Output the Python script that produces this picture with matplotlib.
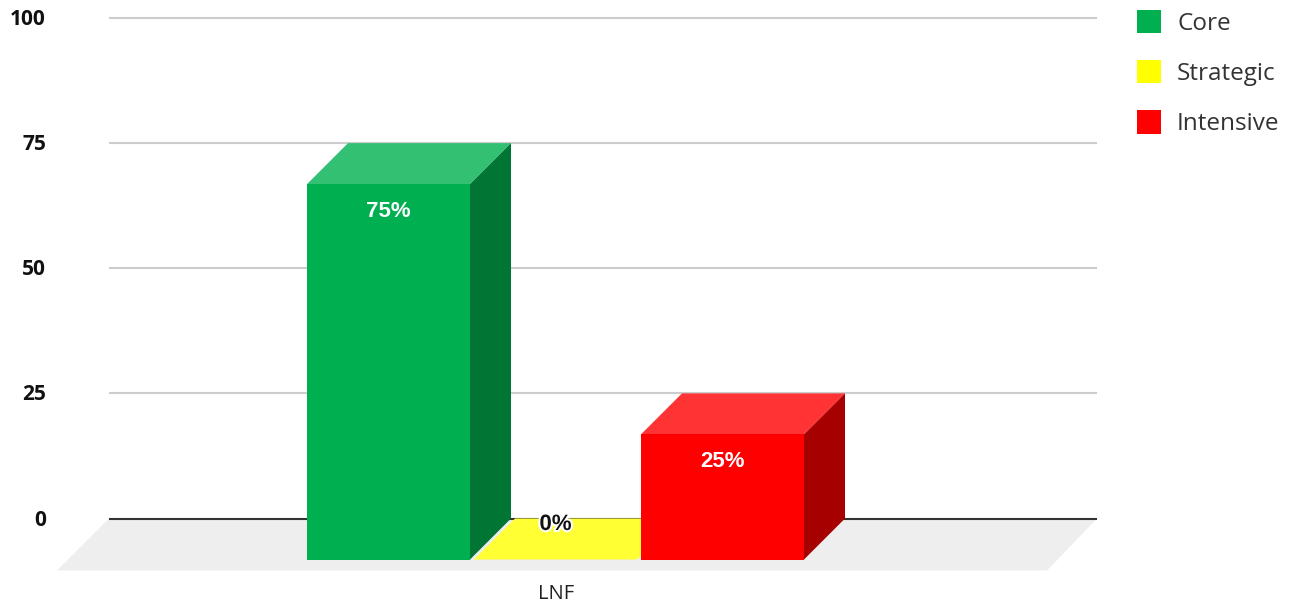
import matplotlib.pyplot as plt
from matplotlib.patches import Patch, Polygon
import matplotlib.patheffects as pe

# data
category = 'LNF'
series_names = ['Core', 'Strategic', 'Intensive']
series_values = [75, 0, 25]
series_colors = ['#00b050', '#ffff00', '#ff0000']
top_colors = ['#33c073', '#ffff33', '#ff3333']
side_colors = ['#007534', '#a6a600', '#a60000']
y_ticks = [0, 25, 50, 75, 100]

# the x axis runs in pixels, the y axis in chart values
px_per_unit = 5.005
zero_px = 518.5
fig = plt.figure(figsize=(12.92, 6.06), dpi=100)
ax = fig.add_axes([0, 0, 1, 1])
ax.set_xlim(0, 1292)
ax.set_ylim((zero_px - 606) / px_per_unit, zero_px / px_per_unit)
ax.axis('off')

wall_left, wall_right = 109, 1097
depth_x = 41
depth_y = 41 / px_per_unit
floor_y = 52 / px_per_unit

# floor
ax.add_patch(Polygon([(wall_left, 0), (wall_right, 0), (wall_right - 50, -floor_y), (wall_left - 52, -floor_y)],
                     closed=True, facecolor='#eeeeee', edgecolor='none', zorder=1))

# grid lines and y tick labels
for t in y_ticks:
    if t == 0:
        ax.plot([wall_left, wall_right], [t, t], color='#333333', lw=1.5, zorder=2, solid_capstyle='butt')
    else:
        ax.plot([wall_left, wall_right], [t, t], color='#cccccc', lw=1.5, zorder=2, solid_capstyle='butt')
    ax.text(46, t - 0.3, str(t), ha='right', va='center', fontsize=15, fontweight='bold',
            family='Open Sans', color='#111111')

# the bars, smallest first so the taller ones cover it
bar_width = 163
bar_step = 167
first_left = 307
order = sorted(range(len(series_values)), key=lambda k: series_values[k])
for z, i in enumerate(order):
    v = series_values[i]
    x0 = first_left + i * bar_step
    x1 = x0 + bar_width
    bottom = -depth_y
    top = v - depth_y
    zo = 3 + z
    # top face
    ax.add_patch(Polygon([(x0, top), (x1, top), (x1 + depth_x, v), (x0 + depth_x, v)],
                         closed=True, facecolor=top_colors[i], edgecolor='none', zorder=zo))
    if v > 0:
        # side and front faces
        ax.add_patch(Polygon([(x1, bottom), (x1 + depth_x, 0), (x1 + depth_x, v), (x1, top)],
                             closed=True, facecolor=side_colors[i], edgecolor='none', zorder=zo))
        ax.add_patch(Polygon([(x0, bottom), (x1, bottom), (x1, top), (x0, top)],
                             closed=True, facecolor=series_colors[i], edgecolor='none', zorder=zo))
        ax.text((x0 + x1) / 2, top - 5.5, f'{v}%', ha='center', va='center', fontsize=16, fontweight='bold',
                family='Liberation Sans', color='white', zorder=10)
    else:
        ax.text((x0 + x1) / 2, -1.2, f'{v}%', ha='center', va='center', fontsize=16, fontweight='bold',
                family='Liberation Sans', color='#111111', zorder=10,
                path_effects=[pe.withStroke(linewidth=3, foreground='white')])

# category label
ax.text(556, (zero_px - 594) / px_per_unit, category, ha='center', va='center', fontsize=14.5,
        family='Open Sans', color='#222222')

# legend
handles = [Patch(facecolor=c, edgecolor='none', label=n) for c, n in zip(series_colors, series_names)]
ax.legend(handles=handles, loc='upper left', bbox_to_anchor=(1137 / 1292, 1 - 10 / 606), frameon=False,
          prop={'family': 'Open Sans', 'size': 17.5}, labelcolor='#333333', borderpad=0, borderaxespad=0,
          handlelength=0.99, handleheight=1.09, handletextpad=0.66, labelspacing=1.0)

fig.savefig('out.png', dpi=100)
